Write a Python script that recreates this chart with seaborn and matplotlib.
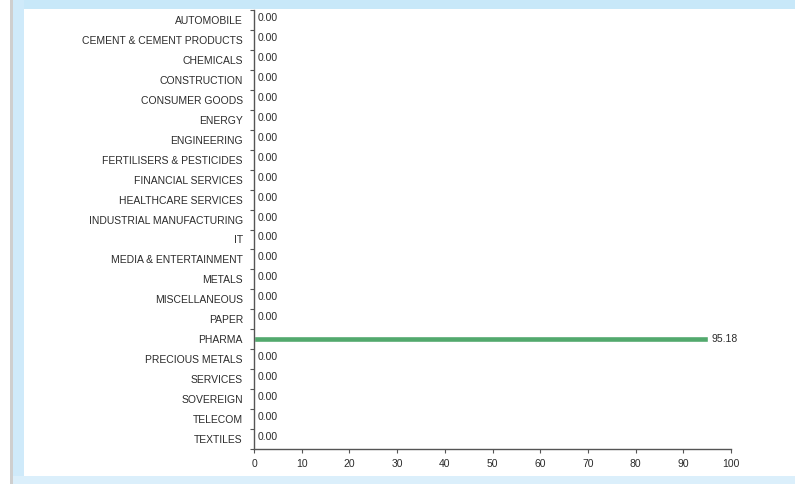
import matplotlib
matplotlib.use("Agg")
import matplotlib.pyplot as plt
from matplotlib.patches import Rectangle
from matplotlib.ticker import FixedLocator
import seaborn as sns
import pandas as pd

sectors = [
    "AUTOMOBILE", "CEMENT & CEMENT PRODUCTS", "CHEMICALS", "CONSTRUCTION",
    "CONSUMER GOODS", "ENERGY", "ENGINEERING", "FERTILISERS & PESTICIDES",
    "FINANCIAL SERVICES", "HEALTHCARE SERVICES", "INDUSTRIAL MANUFACTURING",
    "IT", "MEDIA & ENTERTAINMENT", "METALS", "MISCELLANEOUS", "PAPER",
    "PHARMA", "PRECIOUS METALS", "SERVICES", "SOVEREIGN", "TELECOM", "TEXTILES",
]
weights = [0.00, 0.00, 0.00, 0.00, 0.00, 0.00, 0.00, 0.00, 0.00, 0.00, 0.00,
           0.00, 0.00, 0.00, 0.00, 0.00, 95.18, 0.00, 0.00, 0.00, 0.00, 0.00]
x_ticks = [0, 10, 20, 30, 40, 50, 60, 70, 80, 90, 100]

df = pd.DataFrame({"sector": sectors, "weight": weights})

sns.set_theme(style="white")
plt.rcParams["font.family"] = ["Liberation Sans", "DejaVu Sans"]

W, H = 795, 484
FS = 7.5
TXT = "#2b2b2b"
fig = plt.figure(figsize=(W / 100, H / 100), dpi=100, facecolor="white")

# frame: pale blue bands and a grey rule on the left
def px_rect(x0, y0, x1, y1, color):
    fig.patches.append(Rectangle((x0 / W, 1 - y1 / H), (x1 - x0) / W, (y1 - y0) / H,
                                 transform=fig.transFigure, facecolor=color,
                                 edgecolor="none", zorder=0))

px_rect(13, 0, W, 9, "#c8e8f9")
px_rect(13, 0, 24, H, "#cfeafa")
px_rect(13, 476, W, H, "#dbeffb")
px_rect(10, 0, 13, H, "#cfcfcf")

ax = fig.add_axes([254 / W, 1 - 449 / H, (731 - 254) / W, (449 - 10) / H])
ax.set_facecolor("none")

sns.barplot(data=df, x="weight", y="sector", orient="h", color="#52a96d",
            width=0.28, saturation=1, ax=ax)

ax.set_xlim(0, 100)
ax.set_ylim(len(sectors) - 0.5, -0.5)
ax.set_xticks(x_ticks)
ax.set_xticklabels([str(t) for t in x_ticks])
ax.set_xlabel("")
ax.set_ylabel("")

for s in ["top", "right"]:
    ax.spines[s].set_visible(False)
for s in ["left", "bottom"]:
    ax.spines[s].set_color("#555555")
    ax.spines[s].set_linewidth(1.0)

ax.tick_params(axis="x", which="major", bottom=True, direction="out", length=3,
               width=0.8, color="#555555", labelsize=FS, labelcolor=TXT, pad=4)
ax.tick_params(axis="y", which="major", left=False, length=0, labelsize=FS,
               labelcolor=TXT, pad=8)
ax.yaxis.set_minor_locator(FixedLocator([i - 0.5 for i in range(len(sectors) + 1)]))
ax.tick_params(axis="y", which="minor", left=True, direction="out", length=3,
               width=0.8, color="#555555")

for i, v in enumerate(weights):
    dy = 0 if v > 0 else 2
    ax.annotate(f"{v:.2f}", xy=(v, i), xytext=(3 if v > 0 else 4, dy),
                textcoords="offset pixels", ha="left", va="center",
                fontsize=FS, color=TXT)

fig.savefig("out.png", dpi=100, facecolor="white")
